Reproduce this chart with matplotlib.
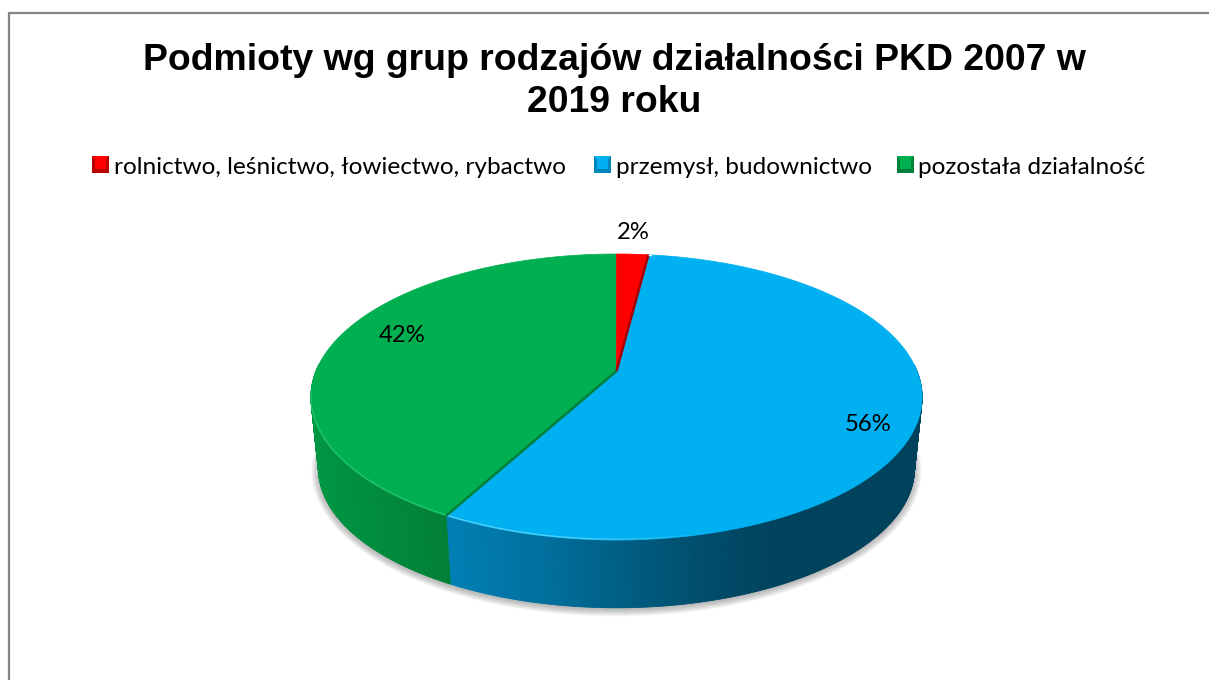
import numpy as np
import matplotlib
matplotlib.use("Agg")
import matplotlib.pyplot as plt
from matplotlib.patches import Polygon, Rectangle

title = "Podmioty wg grup rodzajów działalności PKD 2007 w\n2019 roku"
categories = ["rolnictwo, leśnictwo, łowiectwo, rybactwo", "przemysł, budownictwo", "pozostała działalność"]
values = [2.0, 55.9, 42.1]
colors = ["#FF0000", "#00B0F0", "#00AF50"]
edge_colors = ["#A80000", "#0086B8", "#00803A"]

W, H = 1209, 680
fig = plt.figure(figsize=(W / 100, H / 100), dpi=100, facecolor="white")
ax = fig.add_axes([0, 0, 1, 1])
ax.set_xlim(0, W)
ax.set_ylim(H, 0)
ax.axis("off")

# chart frame
frame = "#868686"
ax.plot([9, 9, W], [H, 13, 13], color=frame, lw=1.6, solid_joinstyle="miter")

# perspective disc projection
CX, K = 616.5, 0.182
def project(t, cy, a, b):
    x, y = np.sin(t), np.cos(t)
    d = 1 + K * y
    return CX + a * x / d, cy - b * y / d

TOP = (371.0, 300.5, 138.3)
BOT = (443.0, 293.0, 134.8)

frac = np.cumsum([0] + values) / np.sum(values)
angles = 2 * np.pi * frac

# soft shadow under the pie
tt = np.linspace(0, 2 * np.pi, 400)
sx, sy = project(tt, *BOT)
for g in np.linspace(7, 0.5, 9):
    px = CX + (sx - CX) * (1 + g / 300)
    py = 443 + 1.5 + (sy - 443) * (1 + g / 165)
    ax.add_patch(Polygon(np.c_[px, py], closed=True, fc="#606060", ec="none", alpha=0.055))

# side wall shading, stops by horizontal screen position
def side_color(i, x):
    if i == 1:
        xs = [446, 540, 620, 700, 770, 920]
        rs = [0, 0, 0, 0, 0, 0]
        gs = [128, 112, 95, 78, 67, 66]
        bs = [180, 158, 132, 108, 94, 92]
    elif i == 2:
        xs = [311, 445]
        rs = [0, 0]
        gs = [150, 128]
        bs = [68, 54]
    else:
        return (0.6, 0, 0)
    return (np.interp(x, xs, rs) / 255, np.interp(x, xs, gs) / 255, np.interp(x, xs, bs) / 255)

for i in range(3):
    ts = np.linspace(angles[i], angles[i + 1], 500)
    ts = ts[np.cos(ts) < 0.05]
    if len(ts) < 2:
        continue
    x1, y1 = project(ts, *TOP)
    x2, y2 = project(ts, *BOT)
    for j in range(len(ts) - 1):
        q = [(x1[j], y1[j]), (x1[j + 1], y1[j + 1]), (x2[j + 1], y2[j + 1]), (x2[j], y2[j])]
        c = side_color(i, 0.5 * (x1[j] + x1[j + 1]))
        ax.add_patch(Polygon(q, closed=True, fc=c, ec=c, lw=0.6))

# top faces
apex = (CX, TOP[0])
for i in [2, 1, 0]:
    ts = np.linspace(angles[i], angles[i + 1], 400)
    x, y = project(ts, *TOP)
    pts = np.vstack([apex, np.c_[x, y]])
    ax.add_patch(Polygon(pts, closed=True, fc=colors[i], ec=colors[i], lw=0.5))

# rim highlight on the front edge, fading out to the right
rim = ["#FF6060", "#5FD4FA", "#2CC878"]
for i in [1, 2]:
    ts = np.linspace(angles[i], angles[i + 1], 300)
    ts = ts[np.cos(ts) < -0.15]
    x, y = project(ts, *TOP)
    for j in range(len(ts) - 1):
        fade = float(np.clip((720 - x[j]) / 130, 0, 1))
        if fade > 0:
            ax.plot(x[j:j + 2], y[j:j + 2] - 0.8, color=rim[i], lw=1.0, alpha=0.85 * fade,
                    solid_capstyle="butt")

# dark seams between wedges
for i in [0, 1]:
    ex, ey = project(angles[i + 1], *TOP)
    ax.plot([apex[0], ex], [apex[1], ey], color=edge_colors[2 if i == 1 else 0], lw=1.8,
            solid_capstyle="butt")
ex, ey = project(angles[1], *TOP)
ax.plot([ex + 0.6, ex + 2.2], [ey, ey], color="white", lw=1)

# title
ax.text(614.5, 81.5, title, ha="center", va="center", fontsize=26.9, fontweight="bold",
        family="Liberation Sans", color="black", linespacing=1.28)

# legend
leg_x = [92, 594, 897]
leg_tx = [114, 616, 918]
bevel = ["#B80000", "#0086B8", "#00803A"]
for i, cat in enumerate(categories):
    x0, y0, s = leg_x[i], 156, 16.5
    ax.add_patch(Rectangle((x0, y0), s, s, fc=bevel[i], ec="none"))
    ax.add_patch(Polygon([(x0, y0), (x0 + s, y0), (x0 + s / 2, y0 + s * 0.62)], closed=True,
                         fc=colors[i], ec="none"))
    ax.add_patch(Rectangle((x0 + 3, y0 + 2.5), s - 6, s - 6, fc=colors[i], ec="none"))
    ax.text(leg_tx[i], 167, cat, ha="left", va="center", fontsize=17.6, family="Lato", color="black")

# data labels
lab_xy = [(633, 232.5), (868, 424.5), (402, 335.5)]
for v, (lx, ly) in zip(values, lab_xy):
    ax.text(lx, ly, f"{v:.0f}%", ha="center", va="center", fontsize=17.2, family="Lato", color="black")

fig.savefig("out.png", dpi=100, facecolor="white")
